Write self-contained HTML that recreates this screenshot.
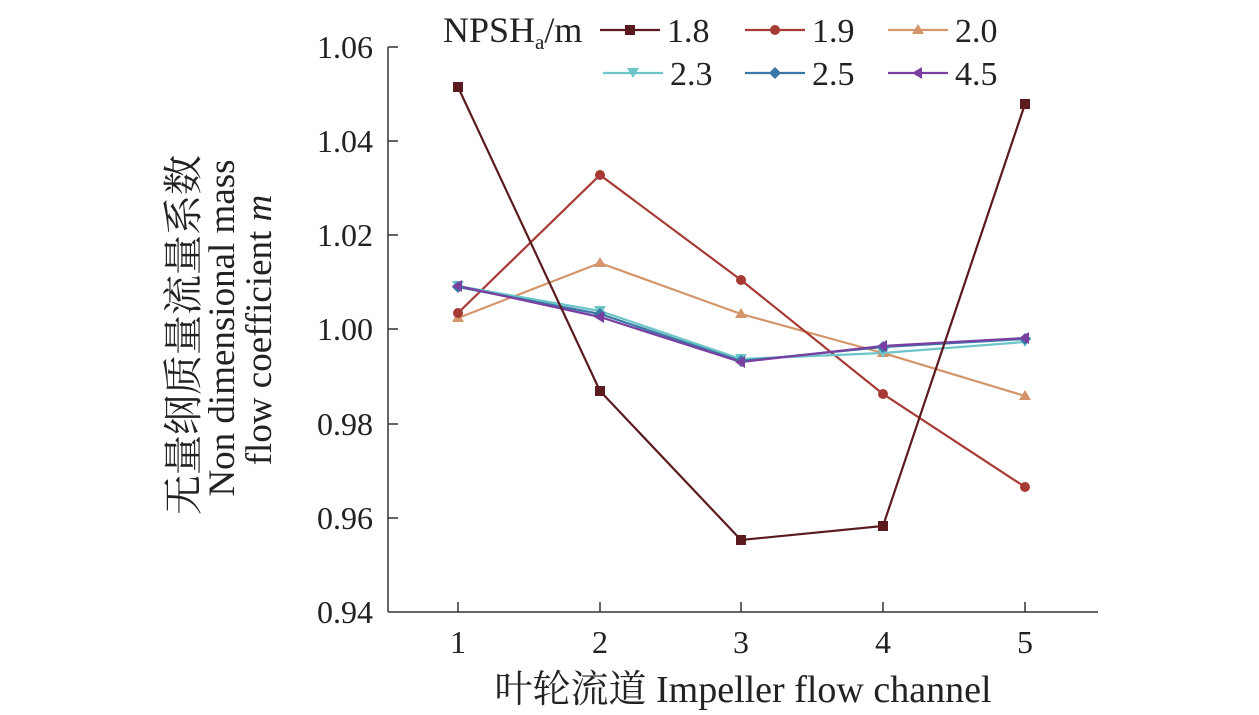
<!DOCTYPE html>
<html><head><meta charset="utf-8"><style>body{margin:0;background:#fff}svg{display:block}</style></head><body>
<svg width="1259" height="715" xmlns="http://www.w3.org/2000/svg" font-family="Liberation Serif, Noto Serif CJK SC, serif" font-size="32" fill="#222">
<g stroke="#333" stroke-width="1.5" fill="none">
<line x1="388" y1="47" x2="388" y2="612"/>
<line x1="388" y1="612" x2="1098" y2="612"/>
<line x1="388" y1="47" x2="398" y2="47"/><line x1="388" y1="141" x2="398" y2="141"/><line x1="388" y1="235" x2="398" y2="235"/><line x1="388" y1="329" x2="398" y2="329"/><line x1="388" y1="424" x2="398" y2="424"/><line x1="388" y1="518" x2="398" y2="518"/>
<line x1="458" y1="612" x2="458" y2="602"/><line x1="600" y1="612" x2="600" y2="602"/><line x1="741" y1="612" x2="741" y2="602"/><line x1="883" y1="612" x2="883" y2="602"/><line x1="1025" y1="612" x2="1025" y2="602"/>
</g>
<g text-anchor="end">
<text x="373" y="58">1.06</text><text x="373" y="152">1.04</text><text x="373" y="246">1.02</text><text x="373" y="340">1.00</text><text x="373" y="435">0.98</text><text x="373" y="529">0.96</text><text x="373" y="623">0.94</text>
</g>
<g text-anchor="middle">
<text x="458" y="653">1</text><text x="600" y="653">2</text><text x="741" y="653">3</text><text x="883" y="653">4</text><text x="1025" y="653">5</text>
<text x="743" y="702" font-size="38">叶轮流道 Impeller flow channel</text>
</g>
<g text-anchor="middle" font-size="37">
<text transform="translate(197,335) rotate(-90)" font-size="40">无量纲质量流量系数</text>
<text transform="translate(234,328) rotate(-90)">Non dimensional mass</text>
<text transform="translate(271,330) rotate(-90)">flow coefficient <tspan font-style="italic">m</tspan></text>
</g>
<g fill="none" stroke-width="2.2">
<polyline stroke="#d4956a" points="458,318 600,263 741,314 883,353 1025,396"/>
<polyline stroke="#a83a35" points="458,313 600,175 741,280 883,394 1025,487"/>
<polyline stroke="#6cc5c8" points="458,286 600,311 741,359 883,353 1025,342"/>
<polyline stroke="#3a78a8" points="458,287 600,314 741,361 883,347 1025,339"/>
<polyline stroke="#7a3fa0" points="458,286 600,317 741,362 883,346 1025,338"/>
<polyline stroke="#5a1a1e" points="458,87 600,391 741,540 883,526 1025,104"/>
</g>
<g fill="#d4956a"><path d="M458,312l6,10h-12z"/><path d="M600,257l6,10h-12z"/><path d="M741,308l6,10h-12z"/><path d="M883,347l6,10h-12z"/><path d="M1025,390l6,10h-12z"/></g>
<g fill="#a83a35"><circle cx="458" cy="313" r="5"/><circle cx="600" cy="175" r="5"/><circle cx="741" cy="280" r="5"/><circle cx="883" cy="394" r="5"/><circle cx="1025" cy="487" r="5"/></g>
<g fill="#6cc5c8"><path d="M452,281h12l-6,10z"/><path d="M594,306h12l-6,10z"/><path d="M735,354h12l-6,10z"/><path d="M877,348h12l-6,10z"/><path d="M1019,337h12l-6,10z"/></g>
<g fill="#3a78a8"><path d="M458,281l6,6-6,6-6-6z"/><path d="M600,308l6,6-6,6-6-6z"/><path d="M741,355l6,6-6,6-6-6z"/><path d="M883,341l6,6-6,6-6-6z"/><path d="M1025,333l6,6-6,6-6-6z"/></g>
<g fill="#7a3fa0"><path d="M452,286l10-6v12z"/><path d="M594,317l10-6v12z"/><path d="M735,362l10-6v12z"/><path d="M877,346l10-6v12z"/><path d="M1019,338l10-6v12z"/></g>
<g fill="#5a1a1e"><rect x="453" y="82" width="10" height="10"/><rect x="595" y="386" width="10" height="10"/><rect x="736" y="535" width="10" height="10"/><rect x="878" y="521" width="10" height="10"/><rect x="1020" y="99" width="10" height="10"/></g>
<text x="443" y="42" font-size="36">NPSH<tspan font-size="21" dy="7">a</tspan><tspan dy="-7">/m</tspan></text>
<g stroke-width="2.2">
<line x1="600" y1="30" x2="660" y2="30" stroke="#5a1a1e"/><rect x="625" y="25" width="10" height="10" fill="#5a1a1e"/>
<line x1="745" y1="30" x2="805" y2="30" stroke="#a83a35"/><circle cx="775" cy="30" r="5" fill="#a83a35"/>
<line x1="888" y1="30" x2="948" y2="30" stroke="#d4956a"/><path d="M918,24l6,10h-12z" fill="#d4956a"/>
<line x1="603" y1="73" x2="663" y2="73" stroke="#6cc5c8"/><path d="M627,68h12l-6,10z" fill="#6cc5c8"/>
<line x1="745" y1="73" x2="805" y2="73" stroke="#3a78a8"/><path d="M775,67l6,6-6,6-6-6z" fill="#3a78a8"/>
<line x1="888" y1="73" x2="948" y2="73" stroke="#7a3fa0"/><path d="M912,73l10-6v12z" fill="#7a3fa0"/>
</g>
<g font-size="34">
<text x="667" y="42">1.8</text><text x="812" y="42">1.9</text><text x="955" y="42">2.0</text>
<text x="670" y="85">2.3</text><text x="812" y="85">2.5</text><text x="955" y="85">4.5</text>
</g>
</svg>
</body></html>
